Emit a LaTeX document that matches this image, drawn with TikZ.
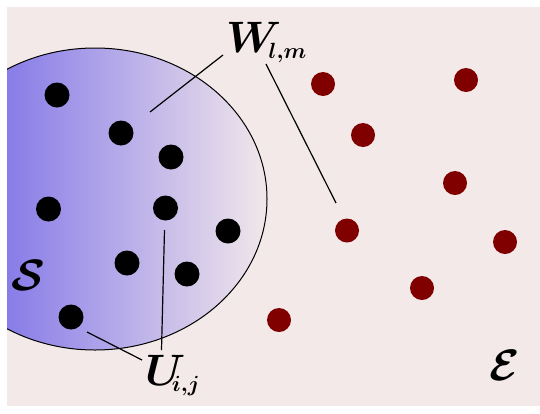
\RequirePackage{fix-cm}
\documentclass[tikz,border=0pt]{standalone}
\usepackage{bm}
\definecolor{bgpink}{RGB}{243,233,233}
\definecolor{darkred}{RGB}{128,0,0}
\definecolor{leftblue}{RGB}{136,124,232}
\definecolor{rightpink}{RGB}{242,232,234}
\begin{document}
\begin{tikzpicture}[x=1pt,y=-1pt,
  bdot/.style={circle,fill=black,inner sep=0pt,minimum size=25pt},
  rdot/.style={circle,fill=darkred,inner sep=0pt,minimum size=24pt},
  lbl/.style={inner sep=0pt,font=\fontsize{44}{50}\selectfont},
  conn/.style={draw=black,line width=1.2pt}]
\useasboundingbox (0,0) rectangle (540,413);
\fill[bgpink] (7,7) rectangle (540,406);
\begin{scope}
  \clip (7,7) rectangle (540,406);
  \begin{scope}
    \clip (95,199) ellipse [x radius=172pt, y radius=151pt];
    \shade[left color=leftblue, right color=rightpink] (7,40) rectangle (268,360);
  \end{scope}
  \draw[line width=1pt] (95,199) ellipse [x radius=172pt, y radius=151pt];
\end{scope}
% black dots
\node[bdot] (b1) at (57,95) {};
\node[bdot] (b2) at (121,133) {};
\node[bdot] (b3) at (171,157) {};
\node[bdot] (b4) at (48.5,209) {};
\node[bdot] (b5) at (165.5,208) {};
\node[bdot] (b6) at (228,231) {};
\node[bdot] (b7) at (127,263) {};
\node[bdot] (b8) at (187,274) {};
\node[bdot] (b9) at (71,317) {};
% red dots
\node[rdot] (r1) at (323,84) {};
\node[rdot] (r2) at (466,80) {};
\node[rdot] (r3) at (363,135) {};
\node[rdot] (r4) at (455,183) {};
\node[rdot] (r5) at (347,230.5) {};
\node[rdot] (r6) at (505,242) {};
\node[rdot] (r7) at (422,288) {};
\node[rdot] (r8) at (279,320) {};
% labels
\node[lbl,anchor=base west] (W) at (226,52) {$\bm{W_{\scriptscriptstyle\mkern-4mu l,m}}$};
\node[lbl,anchor=base west] (U) at (145,385) {$\bm{U_{\scriptscriptstyle\mkern-6mu i,j}}$};
\node[lbl] (S) at (28,275) {$\bm{\mathcal{S}}$};
\node[lbl] (E) at (505,365) {$\bm{\mathcal{E}}$};
% connector ends
\coordinate (w1a) at (223,55);
\coordinate (w1b) at (150,112);
\coordinate (w2a) at (266,64);
\coordinate (w2b) at (336,203);
\coordinate (u1a) at (142,360);
\coordinate (u1b) at (87,332);
\coordinate (u2a) at (161.5,350);
\coordinate (u2b) at (164.5,230);
\draw[conn] (w1a) -- (w1b);
\draw[conn] (w2a) -- (w2b);
\draw[conn] (u1a) -- (u1b);
\draw[conn] (u2a) -- (u2b);
\end{tikzpicture}
\end{document}
